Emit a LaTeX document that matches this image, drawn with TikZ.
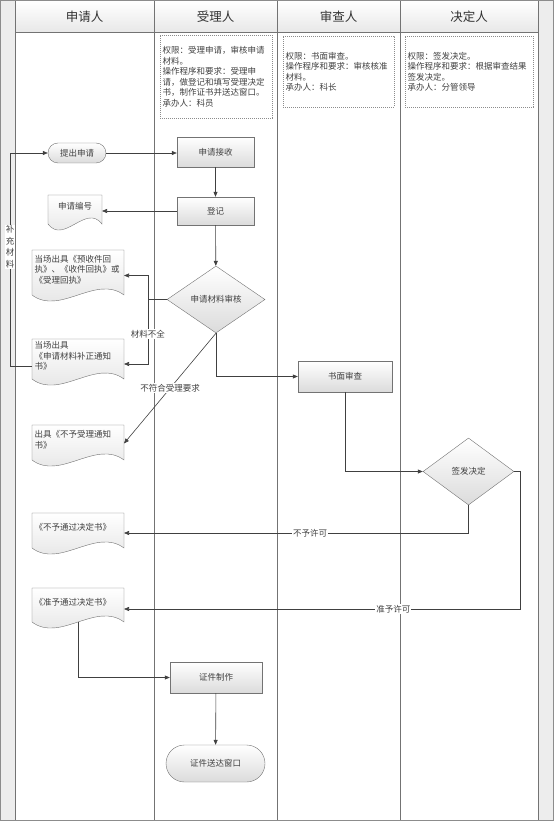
\documentclass[tikz,border=0pt]{standalone}
\usepackage{fontspec}
\setmainfont{Noto Sans CJK SC}
\usepackage{tikz}
\usetikzlibrary{arrows.meta,shapes.geometric,shapes.misc,backgrounds}

\begin{document}
\begin{tikzpicture}
        [x=1pt,y=-1pt,
         every node/.style={font=\fontsize{8.5}{10.6}\selectfont,text=black!75},
         lane/.style={draw=black!55,line width=0.9pt},
         head/.style={font=\fontsize{12.5}{14}\selectfont,text=black!80},
         note/.style={draw=black!45,dash pattern=on 0.9pt off 1.1pt,align=left,inner sep=2.5pt,anchor=north west},
         task/.style={rectangle,draw=black!55,top color=white,bottom color=black!14,minimum width=77pt,minimum height=30pt,inner sep=1pt},
         choice/.style={diamond,draw=black!55,top color=white,bottom color=black!14,inner sep=0pt,aspect=1.46},
         term/.style={rounded rectangle,draw=black!55,top color=white,bottom color=black!14,inner sep=1pt},
         doc/.style={rectangle,minimum width=92pt,text width=87pt,align=left,inner sep=2.5pt,outer sep=0pt},
         docline/.style={draw=black!55,top color=white,bottom color=black!12},
         flow/.style={draw=black!75,line width=0.6pt,-{Triangle[length=5pt,width=4pt]}},
         line/.style={draw=black!75,line width=0.6pt},
         tag/.style={fill=white,inner sep=1pt}]
        \useasboundingbox (0,0) rectangle (554,821);
        \begin{scope}[on background layer]
            \fill [black!7] (1,1) rectangle (15,820);
            \fill [black!7] (538,1) rectangle (553,820);
            \shade [top color=white,bottom color=black!9] (15,1) rectangle (538,32);
            \foreach \x in {15,154,277,400,538}
                \draw [lane] (\x,1) -- (\x,820);
            \draw [lane] (15,32) -- (538,32);
            \draw [black!45,line width=1pt] (0.5,0.5) rectangle (553.5,820.5);
        \end{scope}

        \node [head,name=hA] at (84.5,17) {申请人};
        \node [head,name=hB] at (215.5,17) {受理人};
        \node [head,name=hC] at (338.5,17) {审查人};
        \node [head,name=hD] at (469,17) {决定人};

        \node [note,name=nB,text width=107pt,minimum height=83pt] at (160,35)
            {权限：受理申请，审核申请\\材料。\\操作程序和要求：受理申\\请，做登记和填写受理决定\\书，制作证书并送达窗口。\\承办人：科员};
        \node [note,name=nC,text width=106pt,minimum height=71pt] at (283,36)
            {权限：书面审查。\\操作程序和要求：审核核准\\材料。\\承办人：科长};
        \node [note,name=nD,text width=123pt,minimum height=71pt] at (405,36)
            {权限：签发决定。\\操作程序和要求：根据审查结果\\签发决定。\\承办人：分管领导};

        \node [term,name=apply,minimum width=60pt,minimum height=20pt] at (77,153) {提出申请};
        \node [task,name=recv] at (215.5,152) {申请接收};
        \node [task,name=reg,minimum height=28pt] at (215.5,211) {登记};
        \node [choice,name=check,minimum width=98pt,minimum height=67pt] at (216,299.5) {申请材料审核};
        \node [task,name=fac,minimum width=94pt,minimum height=31pt] at (345,376.5) {书面审查};
        \node [choice,name=sign,minimum width=91pt,minimum height=67pt] at (468.5,471.5) {签发决定};
        \node [task,name=make,minimum width=92pt,minimum height=31pt] at (216,677.5) {证件制作};
        \node [term,name=send,minimum width=101pt,minimum height=37pt] at (215.5,763.5) {证件送达窗口};

        \node [doc,name=num,minimum width=54pt,text width=49pt,align=center,minimum height=23pt] at (75,206.5) {申请编号};
        \node [doc,name=rcpt,minimum height=39pt] at (78,269.5) {当场出具《预收件回\\执》、《收件回执》或\\《受理回执》};
        \node [doc,name=fix,minimum height=32pt] at (78,356) {当场出具\\《申请材料补正通知\\书》};
        \node [doc,name=rej,minimum height=29pt] at (78,439.5) {出具《不予受理通知\\书》};
        \node [doc,name=deny,minimum height=29pt] at (78,527.5) {《不予通过决定书》};
        \node [doc,name=grant,minimum height=28pt] at (78,602) {《准予通过决定书》};

        \begin{scope}[on background layer]
            \foreach \d/\c in {num/16,rcpt/28,fix/28,rej/28,deny/28,grant/28}
                \draw [docline] (\d.north west) -- (\d.north east) -- ([yshift=-6pt]\d.south east)
                    .. controls ([xshift=-\c pt,yshift=15pt]\d.south east) and ([xshift=\c pt,yshift=-27pt]\d.south west)
                    .. ([yshift=-6pt]\d.south west) -- cycle;
        \end{scope}

        \coordinate (split) at ([xshift=-19pt]check.west);

        \draw [flow] (apply.east) -- (apply.east -| recv.west);
        \draw [flow] (recv) -- (reg);
        \draw [flow] (reg.west) -- (reg.west -| num.east);
        \draw [flow] (reg) -- (check);
        \draw [line] (check.west) -- (split);
        \draw [flow] (split) |- ([yshift=-6pt]rcpt.east);
        \draw [flow] (split) |- node[tag,pos=0.27] {材料不全} ([yshift=-8pt]fix.east);
        \draw [flow] (check.south) -- node[tag] {不符合受理要求} ([yshift=-4pt]rej.east);
        \draw [flow] (check.south) |- (fac.west);
        \draw [flow] (fac.south) |- (sign.west);
        \draw [flow] (sign.south) |- node[tag,pos=0.73] {不予许可} ([yshift=-5.5pt]deny.east);
        \draw [flow] (sign.east) -- ++(6,0) |- node[tag,pos=0.66] {准予许可} ([yshift=-7pt]grant.east);
        \draw [flow] ([yshift=-6pt]grant.south) |- (make.west);
        \draw [flow] (make) -- (send);
        \draw [flow] ([yshift=-10pt]fix.west) -- ++(-22,0) |- node[tag,pos=0.28,align=center,font=\fontsize{8.5}{11.5}\selectfont] {补\\充\\材\\料} (apply.west);
    \end{tikzpicture}
\end{document}
